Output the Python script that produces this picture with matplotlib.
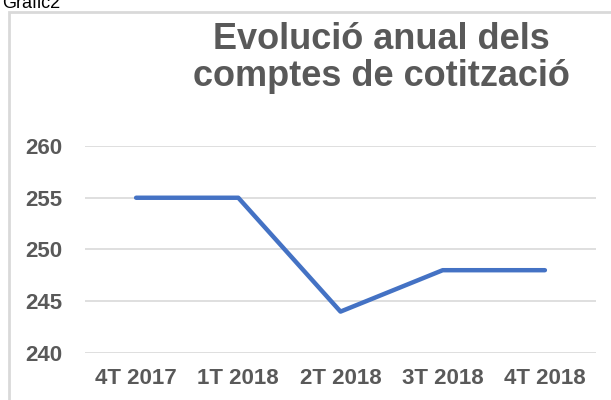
import matplotlib
matplotlib.use("Agg")
import matplotlib.pyplot as plt
from matplotlib.patches import Rectangle

categories = ["4T 2017", "1T 2018", "2T 2018", "3T 2018", "4T 2018"]
values = [255, 255, 244, 248, 248]
yticks = [240, 245, 250, 255, 260]

plt.rcParams["font.family"] = ["Liberation Sans", "DejaVu Sans"]
text_color = "#595959"
grid_color = "#d9d9d9"

W, H = 611, 400
fig = plt.figure(figsize=(W / 100, H / 100), dpi=100)

# chart frame (cut off at right and bottom like the screenshot)
fig.patches.append(Rectangle((9 / W, -0.1), 1.2, 1 - 12 / H + 0.1,
                             transform=fig.transFigure, fill=False,
                             edgecolor=grid_color, linewidth=2))
fig.text(2 / W, 1 - 8 / H, "Gràfic2", fontsize=13, color="black", va="baseline")

ax = fig.add_axes([85 / W, 1 - 353 / H, 511 / W, 207 / H])
ax.plot(range(len(categories)), values, color="#4472C4", linewidth=3.2,
        solid_capstyle="round", solid_joinstyle="round", zorder=3)
ax.set_xlim(-0.5, len(categories) - 0.5)
ax.set_ylim(240, 260)
ax.set_yticks(yticks)
ax.set_xticks(range(len(categories)))
ax.set_xticklabels(categories)
ax.grid(axis="y", color=grid_color, linewidth=1.2)
ax.set_axisbelow(True)
for s in ax.spines.values():
    s.set_visible(False)
ax.tick_params(length=0, labelsize=16, labelcolor=text_color)
ax.tick_params(axis="x", pad=11)
ax.tick_params(axis="y", pad=16)
for lab in ax.get_xticklabels() + ax.get_yticklabels():
    lab.set_fontweight("bold")

fig.text(381 / W, 1 - 58 / H, "Evolució anual dels\ncomptes de cotització",
         ha="center", va="center", fontsize=26, fontweight="bold",
         color=text_color, linespacing=1.1)

fig.savefig("out.png", dpi=100)
